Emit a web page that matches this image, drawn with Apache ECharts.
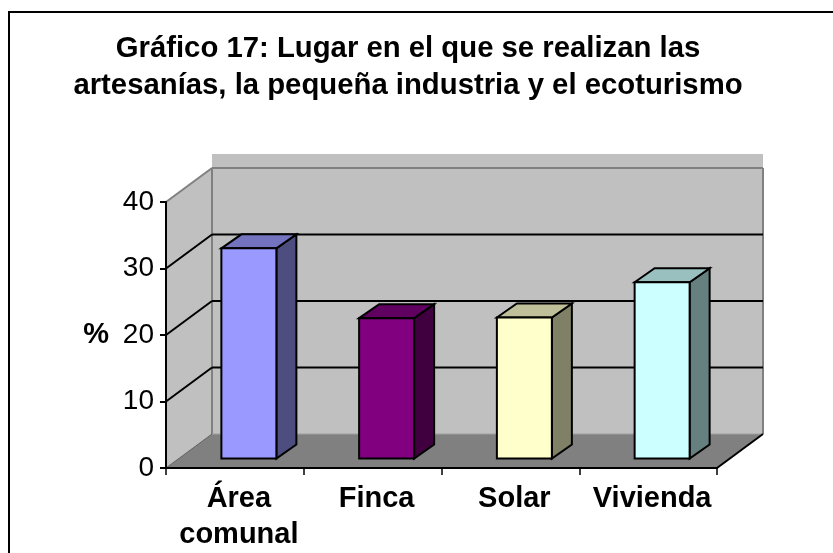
<!DOCTYPE html>
<html><head><meta charset="utf-8">
<style>html,body{margin:0;padding:0;background:#fff}#c{width:833px;height:553px}</style>
<script src="https://cdn.jsdelivr.net/npm/echarts@6/dist/echarts.min.js"></script>
</head><body><div id="c"></div>
<script>
const titleLines = ['Gráfico 17: Lugar en el que se realizan las','artesanías, la pequeña industria y el ecoturismo'];
const categories = ['Área\ncomunal','Finca','Solar','Vivienda'];
const values = [31.6,21.1,21.2,26.5];
const yTicks = [0,10,20,30,40];
const frontColors = ['#9999FF','#800080','#FFFFCC','#CCFFFF'];
const topColors = ['#7373BF','#600060','#BFBF99','#99BFBF'];
const sideColors = ['#4D4D80','#400040','#808066','#668080'];

const DX=46, DY=34, BAR_W=55, BAR_OX=14, BAR_OY=9.5, BAR_DX=20, BAR_DY=14;
const poly=(points,fill,stroke,lw)=>({type:'polygon',shape:{points},style:{fill,stroke:stroke||null,lineWidth:lw||0}});
const line=(a,b,stroke,lw)=>({type:'line',shape:{x1:a[0],y1:a[1],x2:b[0],y2:b[1]},style:{stroke,lineWidth:lw}});

function shell(params,api){
  const hw=api.size([1,0])[0]/2;
  const x0=api.coord([0,0])[0]-hw, x1=api.coord([3,0])[0]+hw;
  const y0=api.coord([0,0])[1], yT=api.coord([0,40])[1];
  const bk=[x0+DX,y0-DY], bkT=[x0+DX,yT-DY], bkR=[x1+DX,y0-DY], bkRT=[x1+DX,yT-DY];
  return {type:'group',children:[
    {type:'rect',shape:{x:bkT[0],y:bkT[1]-14,width:bkRT[0]-bkT[0],height:14},style:{fill:'#C0C0C0'}},
    poly([bkT,bkRT,bkR,bk],'#C0C0C0'),
    poly([[x0,y0],[x0,yT],bkT,bk],'#C0C0C0'),
    poly([[x0,y0],[x1,y0],bkR,bk],'#808080'),
    line(bk,bkT,'#808080',2),
    line(bkT,bkRT,'#808080',2),
    line(bkRT,bkR,'#808080',2),
    line(bk,bkR,'#A0A0A0',1),
    line(bkT,[x0,yT],'#808080',2),
    line(bk,[x0,y0],'#606060',1),
    line([x1,y0],bkR,'#000',2)
  ]};
}
function gridRow(params,api){
  const hw=api.size([1,0])[0]/2;
  const v=api.value(0);
  const p=api.coord([0,v]), x0=p[0]-hw, x1=api.coord([3,v])[0]+hw, y=p[1];
  return {type:'group',children:[
    line([x0,y],[x0+DX,y-DY],'#000',2),
    line([x0+DX,y-DY],[x1+DX,y-DY],'#000',2)
  ]};
}
function bar3d(params,api){
  const i=params.dataIndex;
  const c=api.coord([api.value(0),api.value(1)]), b=api.coord([api.value(0),0]);
  const l=c[0]+BAR_OX-BAR_W/2, r=l+BAR_W, t=c[1]-BAR_OY, y=b[1]-BAR_OY;
  return {type:'group',children:[
    poly([[r,t],[r+BAR_DX,t-BAR_DY],[r+BAR_DX,y-BAR_DY],[r,y]],sideColors[i],'#000',2),
    poly([[l,t],[l+BAR_DX,t-BAR_DY],[r+BAR_DX,t-BAR_DY],[r,t]],topColors[i],'#000',2),
    {type:'rect',shape:{x:l,y:t,width:BAR_W,height:y-t},style:{fill:frontColors[i],stroke:'#000',lineWidth:2}}
  ]};
}
const chart=echarts.init(document.getElementById('c'),null,{renderer:'canvas'});
chart.setOption({
  animation:false,
  backgroundColor:'#fff',
  title:{text:titleLines.join('\n'),left:403,top:25,textAlign:'center',
    textStyle:{fontFamily:'Liberation Sans',fontWeight:'bold',fontSize:29.3,lineHeight:37,color:'#000'}},
  grid:{left:166,right:116,top:202,bottom:85},
  xAxis:{type:'category',data:categories,z:5,
    axisLine:{lineStyle:{color:'#000',width:2}},
    axisTick:{show:true,length:7,alignWithLabel:false,lineStyle:{color:'#000',width:1.5}},
    axisLabel:{margin:13,interval:0,padding:[0,0,0,8],fontFamily:'Liberation Sans',fontWeight:'bold',fontSize:29,lineHeight:36,color:'#000'},
    splitLine:{show:false}},
  yAxis:{type:'value',min:0,max:40,interval:10,z:5,
    name:'%',nameLocation:'middle',nameRotate:0,nameGap:57,
    nameTextStyle:{fontFamily:'Liberation Sans',fontWeight:'bold',fontSize:29,color:'#000',padding:[6,0,0,0]},
    axisLine:{show:true,lineStyle:{color:'#000',width:2}},
    axisTick:{show:true,length:6,lineStyle:{color:'#000',width:2}},
    axisLabel:{margin:12,padding:[2,0,0,0],fontFamily:'Liberation Sans',fontSize:28,color:'#000'},
    splitLine:{show:false}},
  graphic:[
    {type:'line',shape:{x1:9,y1:12,x2:833,y2:12},style:{stroke:'#000',lineWidth:2}},
    {type:'line',shape:{x1:9,y1:11,x2:9,y2:553},style:{stroke:'#000',lineWidth:2}}
  ],
  series:[
    {type:'custom',z:1,silent:true,clip:false,renderItem:shell,data:[[0]]},
    {type:'custom',z:2,silent:true,clip:false,renderItem:gridRow,data:yTicks.filter(v=>v>0&&v<40).map(v=>[v])},
    {type:'custom',z:3,clip:false,renderItem:bar3d,encode:{x:0,y:1},data:values.map((v,i)=>[i,v])}
  ]
});
</script></body></html>
